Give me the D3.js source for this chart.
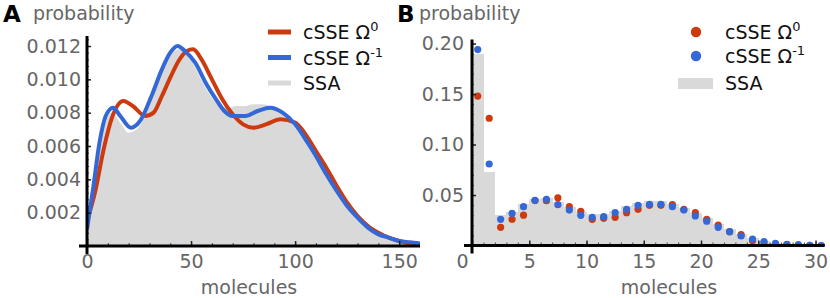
<!DOCTYPE html>
<html>
<head>
<meta charset="utf-8">
<script src="https://cdn.jsdelivr.net/npm/d3@7"></script>
<style>
  body { margin: 0; background: #fff; }
  text { font-family: "DejaVu Sans", sans-serif; }
</style>
</head>
<body>
<svg id="chart" width="830" height="298"></svg>
<script>
// ---- panel A : continuous distribution ----
var blueAx = [0, 3, 6, 9, 12.5, 16, 21, 26, 31, 36, 40, 43.5, 47, 52, 57, 62, 66, 70, 76, 82, 88, 94, 100, 105, 110, 115, 120, 125, 130, 135, 140, 145, 150, 155, 160];
var blueAy = [0.0010, 0.0035, 0.0062, 0.0078, 0.0083, 0.0078, 0.0071, 0.0076, 0.0090, 0.0106, 0.0116, 0.0120, 0.0117, 0.0110, 0.0098, 0.0088, 0.0081, 0.0078, 0.0078, 0.0081, 0.0083, 0.0080, 0.0073, 0.0064, 0.0054, 0.0043, 0.0033, 0.0024, 0.0017, 0.0011, 0.0007, 0.0005, 0.0003, 0.00022, 0.00015];
var redAx = [0, 4, 8, 12, 17.5, 22, 28, 32, 36, 40, 44, 48, 51, 55, 60, 65, 70, 75, 80, 86, 93, 100, 105, 110, 115, 120, 125, 130, 135, 140, 145, 150, 155, 160];
var redAy = [0.0015, 0.0033, 0.0058, 0.0077, 0.0087, 0.0084, 0.0078, 0.0080, 0.0090, 0.0101, 0.0111, 0.0117, 0.0118, 0.0112, 0.0100, 0.0088, 0.0079, 0.0073, 0.0071, 0.0073, 0.0076, 0.0074, 0.0067, 0.0057, 0.0047, 0.0036, 0.0026, 0.0018, 0.0012, 0.0008, 0.0005, 0.0003, 0.00015, 0.0001];
var ssaAx = [0, 4, 8, 12, 16, 20, 24, 28, 32, 36, 40, 44, 48, 52, 56, 60, 64, 68, 72, 76, 80, 84, 88, 92, 96, 100, 104, 108, 112, 116, 120, 124, 128, 132, 136, 140, 144, 148, 152, 156, 160];
var ssaAy = [0.0010, 0.0040, 0.0070, 0.0080, 0.0074, 0.0068, 0.0070, 0.0078, 0.0090, 0.0104, 0.0114, 0.0118, 0.0115, 0.0107, 0.0097, 0.0089, 0.0084, 0.0083, 0.0084, 0.0084, 0.0085, 0.0085, 0.0084, 0.0081, 0.0076, 0.0071, 0.0064, 0.0056, 0.0048, 0.0040, 0.0032, 0.0025, 0.0019, 0.0014, 0.0010, 0.0007, 0.0005, 0.0003, 0.00022, 0.00015, 0.0001];
var ticksAx = [0, 50, 100, 150];
var ticksAy = [0.002, 0.004, 0.006, 0.008, 0.010, 0.012];

// ---- panel B : small copy numbers ----
var binsB = d3.range(0, 31);
var ssaB = [0.190, 0.073, 0.030, 0.0335, 0.041, 0.0457, 0.0467, 0.0434, 0.0384, 0.0335, 0.0315, 0.031, 0.034, 0.039, 0.042, 0.044, 0.044, 0.041, 0.037, 0.032, 0.027, 0.021, 0.016, 0.011, 0.007, 0.0045, 0.0025, 0.0015, 0.0008, 0.0004, 0.0002];
var redB = [0.148, 0.126, 0.018, 0.026, 0.030, 0.0445, 0.0444, 0.0473, 0.0384, 0.0338, 0.0259, 0.0269, 0.0279, 0.0325, 0.0358, 0.0398, 0.0398, 0.0404, 0.0358, 0.0325, 0.0259, 0.0203, 0.0137, 0.0107, 0.0048, 0.0028, 0.0008, 0.0008, 0.0000, 0.0002, 0.0000];
var blueB = [0.194, 0.0807, 0.0259, 0.0319, 0.0384, 0.0447, 0.0457, 0.0404, 0.0351, 0.0299, 0.0279, 0.0285, 0.0325, 0.0358, 0.0398, 0.0408, 0.0408, 0.0384, 0.0351, 0.0292, 0.0240, 0.0180, 0.0137, 0.0094, 0.0064, 0.0038, 0.0022, 0.0012, 0.0008, 0.0002, 0.0000];
var ticksBx = [0, 5, 10, 15, 20, 25, 30];
var ticksBy = [0.05, 0.10, 0.15, 0.20];

var RED = "#cc3a0e", BLUE = "#3468d6", GREY = "#d9d9d9", LABEL = "#666";

var svg = d3.select("#chart");

function zip(xs, ys) {
    return xs.map(function (x, i) { return [x, ys[i]]; });
}

// common axis drawing, Mathematica style: thick black lines crossing, ticks inward
function drawAxes(g, x, y, o) {
    var x0 = x.range()[0], x1 = x.range()[1];
    var y0 = y.range()[0], y1 = y.range()[1];

    // minor ticks (inside)
    g.append("g")
        .attr("transform", "translate(0," + y0 + ")")
        .call(d3.axisTop(x).tickValues(o.minorX).tickSize(3).tickFormat(""))
        .call(function (s) { s.select(".domain").remove(); s.selectAll("line").attr("stroke", "#444"); });
    g.append("g")
        .attr("transform", "translate(" + x0 + ",0)")
        .call(d3.axisRight(y).tickValues(o.minorY).tickSize(2).tickFormat(""))
        .call(function (s) { s.select(".domain").remove(); s.selectAll("line").attr("stroke", "#444"); });
    // major ticks (inside)
    g.append("g")
        .attr("transform", "translate(" + x0 + ",0)")
        .call(d3.axisRight(y).tickValues(o.ticksY).tickSize(4).tickFormat(""))
        .call(function (s) { s.select(".domain").remove(); s.selectAll("line").attr("stroke", "#222").attr("stroke-width", 1.5); });
    g.append("g")
        .attr("transform", "translate(0," + y0 + ")")
        .call(d3.axisTop(x).tickValues(o.ticksX).tickSize(5).tickFormat(""))
        .call(function (s) { s.select(".domain").remove(); s.selectAll("line").attr("stroke", "#222").attr("stroke-width", 1.5); });

    // tick labels
    var xl = g.append("g")
        .attr("transform", "translate(0," + y0 + ")")
        .call(d3.axisBottom(x).tickValues(o.ticksX).tickSize(0).tickPadding(9).tickFormat(o.fmtX));
    xl.select(".domain").remove();
    xl.selectAll("text").attr("font-size", 19).attr("fill", LABEL).attr("font-family", "DejaVu Sans");
    if (o.zeroShift) xl.selectAll("text").filter(function (d) { return d === 0; }).attr("dx", o.zeroShift);

    var yl = g.append("g")
        .attr("transform", "translate(" + x0 + ",0)")
        .call(d3.axisLeft(y).tickValues(o.ticksY).tickSize(0).tickPadding(o.padY).tickFormat(o.fmtY));
    yl.select(".domain").remove();
    yl.selectAll("text").attr("font-size", 19).attr("fill", LABEL).attr("font-family", "DejaVu Sans");

    // axis lines
    g.append("line").attr("x1", x0 - 8).attr("x2", x1).attr("y1", y0).attr("y2", y0)
        .attr("stroke", "#000").attr("stroke-width", 3);
    g.append("line").attr("x1", x0).attr("x2", x0).attr("y1", y0 + 8).attr("y2", y1)
        .attr("stroke", "#000").attr("stroke-width", 3);

    // titles
    g.append("text").attr("x", o.labelX).attr("y", 20).attr("font-size", 19).attr("fill", LABEL).text("probability");
    g.append("text").attr("x", o.xTitle).attr("y", 294).attr("text-anchor", "middle")
        .attr("font-size", 19).attr("fill", LABEL).text("molecules");
    g.append("text").attr("x", o.letterX).attr("y", 22).attr("font-size", 23).attr("font-weight", "bold")
        .attr("fill", "#000").text(o.letter);
}

function legendText(g, x, y, main, sup) {
    var t = g.append("text").attr("x", x).attr("y", y).attr("font-size", 19).attr("fill", "#111");
    t.append("tspan").text(main);
    if (sup) t.append("tspan").attr("font-size", 13).attr("dy", -8).text(sup);
}

// ================= panel A =================
var xA = d3.scaleLinear().domain([0, 160]).range([87, 420]);
var yA = d3.scaleLinear().domain([0, 0.0126]).range([246, 36]);
var gA = svg.append("g");

gA.append("clipPath").attr("id", "clipA").append("rect")
    .attr("x", 87).attr("y", 30).attr("width", 333).attr("height", 216);

var plotA = gA.append("g").attr("clip-path", "url(#clipA)");

plotA.append("path")
    .datum(zip(ssaAx, ssaAy))
    .attr("fill", GREY)
    .attr("d", d3.area().curve(d3.curveMonotoneX)
        .x(function (d) { return xA(d[0]); }).y0(yA(0)).y1(function (d) { return yA(d[1]); }));

var lineA = d3.line().curve(d3.curveMonotoneX)
    .x(function (d) { return xA(d[0]); }).y(function (d) { return yA(d[1]); });

plotA.append("path").datum(zip(redAx, redAy))
    .attr("fill", "none").attr("stroke", RED).attr("stroke-width", 4).attr("d", lineA);
plotA.append("path").datum(zip(blueAx, blueAy))
    .attr("fill", "none").attr("stroke", BLUE).attr("stroke-width", 4).attr("d", lineA);

drawAxes(gA, xA, yA, {
    ticksX: ticksAx, minorX: d3.range(10, 160, 10),
    ticksY: ticksAy, minorY: d3.range(0.0004, 0.0126, 0.0004),
    fmtX: d3.format("d"), fmtY: d3.format(".3f"), padY: 6,
    labelX: 33, xTitle: 249, letterX: 3, letter: "A"
});

// legend A
[[RED, "cSSE Ω", "0"], [BLUE, "cSSE Ω", "-1"], [GREY, "SSA", null]].forEach(function (r, i) {
    var cy = 32 + i * 25.5;
    gA.append("line").attr("x1", 268).attr("x2", 291).attr("y1", cy).attr("y2", cy)
        .attr("stroke", r[0]).attr("stroke-width", 5);
    legendText(gA, 303, cy + 7, r[1], r[2]);
});

// ================= panel B =================
var xB = d3.scaleLinear().domain([0, 30.8]).range([472, 824.7]);
var yB = d3.scaleLinear().domain([0, 0.204]).range([245.5, 39.5]);
var gB = svg.append("g");

gB.append("clipPath").attr("id", "clipB").append("rect")
    .attr("x", 472).attr("y", 30).attr("width", 353).attr("height", 216);

var plotB = gB.append("g").attr("clip-path", "url(#clipB)");

plotB.selectAll("rect.bar").data(binsB).enter().append("rect")
    .attr("class", "bar")
    .attr("x", function (n) { return xB(n); })
    .attr("width", function (n) { return xB(n + 1) - xB(n) + 0.5; })
    .attr("y", function (n) { return yB(ssaB[n]); })
    .attr("height", function (n) { return yB(0) - yB(ssaB[n]); })
    .attr("fill", GREY)
    .attr("shape-rendering", "crispEdges");

plotB.selectAll("circle.red").data(binsB).enter().append("circle")
    .attr("class", "red")
    .attr("cx", function (n) { return xB(n + 0.5); })
    .attr("cy", function (n) { return yB(redB[n]); })
    .attr("r", 3.6).attr("fill", RED);
plotB.selectAll("circle.blue").data(binsB).enter().append("circle")
    .attr("class", "blue")
    .attr("cx", function (n) { return xB(n + 0.5); })
    .attr("cy", function (n) { return yB(blueB[n]); })
    .attr("r", 3.6).attr("fill", BLUE);

drawAxes(gB, xB, yB, {
    ticksX: ticksBx, minorX: d3.range(1, 31, 1),
    ticksY: ticksBy, minorY: d3.range(0.01, 0.204, 0.01),
    fmtX: d3.format("d"), fmtY: d3.format(".2f"), padY: 8, zeroShift: -10,
    labelX: 419, xTitle: 669, letterX: 397, letter: "B"
});

// legend B
gB.append("circle").attr("cx", 696).attr("cy", 32).attr("r", 5.2).attr("fill", RED);
legendText(gB, 725, 39, "cSSE Ω", "0");
gB.append("circle").attr("cx", 696).attr("cy", 56).attr("r", 5.2).attr("fill", BLUE);
legendText(gB, 725, 63, "cSSE Ω", "-1");
gB.append("rect").attr("x", 678).attr("y", 78).attr("width", 35).attr("height", 11).attr("fill", GREY);
legendText(gB, 725, 90, "SSA", null);
</script>
</body>
</html>
